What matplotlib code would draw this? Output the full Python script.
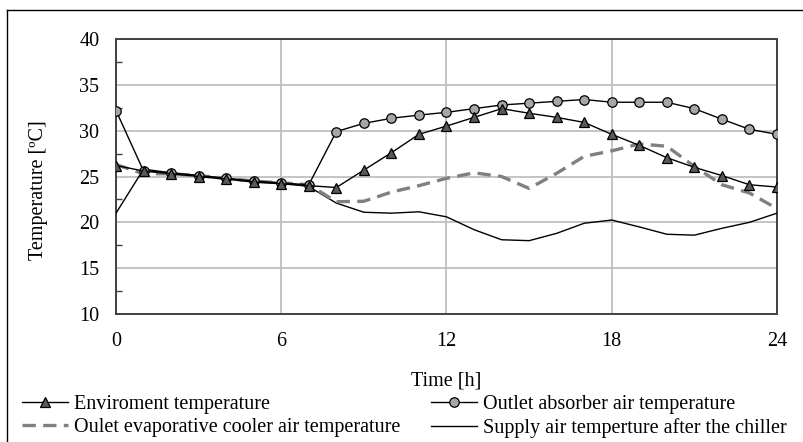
import numpy as np
import matplotlib.pyplot as plt
from matplotlib.lines import Line2D

plt.rcParams['font.family'] = ['Liberation Serif', 'DejaVu Serif']

hours = list(range(25))

# values
env_temp = [26.2, 25.6, 25.3, 25.0, 24.7, 24.4, 24.2, 24.0, 23.8, 25.7, 27.6, 29.6, 30.5,
            31.45, 32.4, 31.9, 31.45, 30.9, 29.6, 28.4, 27.05, 26.0, 25.1, 24.1, 23.85]
absorber_temp = [32.2, 25.6, 25.4, 25.1, 24.8, 24.5, 24.3, 24.1, 29.9, 30.8, 31.35, 31.7, 32.0,
                 32.4, 32.8, 33.0, 33.2, 33.4, 33.1, 33.1, 33.1, 32.4, 31.25, 30.15, 29.6]
evap_temp = [26.3, 25.3, 25.3, 25.1, 24.8, 24.5, 24.3, 24.1, 22.25, 22.3, 23.3, 24.0, 24.8,
             25.4, 25.0, 23.7, 25.35, 27.2, 27.8, 28.55, 28.3, 26.1, 24.1, 23.2, 21.5]
supply_temp = [21.0, 25.8, 25.4, 25.1, 24.8, 24.5, 24.3, 23.9, 22.1, 21.1, 21.0, 21.15, 20.6,
               19.2, 18.1, 18.0, 18.8, 19.9, 20.25, 19.5, 18.7, 18.6, 19.35, 20.0, 21.0]

labels = ['Enviroment temperature', 'Outlet absorber air temperature',
          'Oulet evaporative cooler air temperature', 'Supply air temperture after the chiller']

fs = 14.5

fig = plt.figure(figsize=(8.04, 4.42), dpi=100)
ax = fig.add_axes([116 / 804, 1 - 314 / 442, 661 / 804, 275 / 442])

# outer frame (only left and top edges visible in the reference)
fig.add_artist(Line2D([7 / 804, 7 / 804], [0, 1 - 10 / 442], color='black', lw=1.0))
fig.add_artist(Line2D([7 / 804, 1], [1 - 10 / 442, 1 - 10 / 442], color='black', lw=1.0))

l_sup, = ax.plot(hours, supply_temp, color='black', lw=1.0, zorder=3)
l_evap, = ax.plot(hours, evap_temp, color='#808080', lw=2.4, dashes=(4, 2.2), zorder=4)
l_abs, = ax.plot(hours, absorber_temp, color='black', lw=1.0, marker='o', ms=6.8,
                 mfc='#a6a6a6', mec='black', mew=0.9, zorder=5)
l_env, = ax.plot(hours, env_temp, color='black', lw=1.0, marker='^', ms=7,
                 mfc='#595959', mec='black', mew=0.9, zorder=6)

ax.set_xlim(0, 24)
ax.set_ylim(10, 40)
ax.set_xticks([0, 6, 12, 18, 24])
ax.set_yticks(range(10, 41, 5))
ax.set_yticks(np.arange(12.5, 40, 5), minor=True)
ax.grid(True, color='#bfbfbf', lw=1.3)
ax.set_axisbelow(True)

ax.tick_params(axis='x', length=0, pad=13, labelsize=fs)
ax.tick_params(axis='y', which='major', length=0, pad=12, labelsize=fs)
ax.tick_params(axis='y', which='minor', direction='in', length=4, width=1, color='#404040')
for s in ax.spines.values():
    s.set_color('#404040')
    s.set_linewidth(1.4)

ax.set_xlabel('Time [h]', fontsize=fs, labelpad=15)
ax.set_ylabel('Temperature [ºC]', fontsize=fs)
ax.yaxis.set_label_coords(-0.103, 0.45)

fig.legend([l_env, l_evap, l_abs, l_sup], [labels[0], labels[2], labels[1], labels[3]],
           ncol=2, loc='upper left', bbox_to_anchor=(22 / 804, 1 - 395 / 442),
           frameon=False, fontsize=fs, handlelength=2.3, handletextpad=0.3,
           columnspacing=1.5, labelspacing=0.2, borderaxespad=0, borderpad=0)

fig.savefig('out.png', dpi=100)
